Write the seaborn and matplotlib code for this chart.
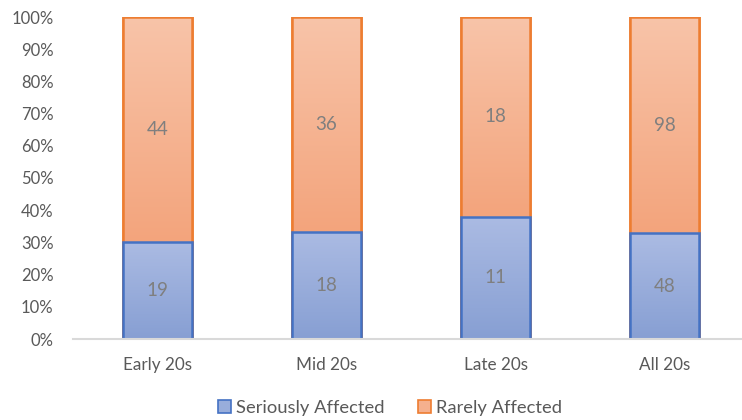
import numpy as np
import pandas as pd
import matplotlib
matplotlib.use("Agg")
import matplotlib.pyplot as plt
from matplotlib.colors import LinearSegmentedColormap
from matplotlib.patches import Patch
import seaborn as sns

# Counts per age group
categories = ["Early 20s", "Mid 20s", "Late 20s", "All 20s"]
seriously_affected = [19, 18, 11, 48]
rarely_affected = [44, 36, 18, 98]
y_ticks = [0, 10, 20, 30, 40, 50, 60, 70, 80, 90, 100]

df = pd.DataFrame({
    "group": categories,
    "serious": seriously_affected,
    "rare": rarely_affected,
})
df["total"] = df["serious"] + df["rare"]
df["serious_pct"] = df["serious"] / df["total"] * 100
df["total_pct"] = 100.0

sns.set_theme(style="white")
plt.rcParams["font.family"] = ["Lato", "DejaVu Sans"]

text_grey = "#595959"
label_grey = "#7f7f7f"
blue_edge = "#4472c4"
orange_edge = "#ed7d31"

fig = plt.figure(figsize=(7.42, 4.20), dpi=100)
ax = fig.add_axes([73 / 742, (420 - 339) / 420, (749 - 73) / 742, (339 - 17) / 420])

# Stacked 100% bars: full-height orange first, blue share on top of it
sns.barplot(data=df, x="group", y="total_pct", ax=ax, width=0.41,
            color="#f5b08e", edgecolor=orange_edge, linewidth=1.8, saturation=1)
n_orange = len(ax.patches)
sns.barplot(data=df, x="group", y="serious_pct", ax=ax, width=0.41,
            color="#98addb", edgecolor=blue_edge, linewidth=1.8, saturation=1)

orange_cmap = LinearSegmentedColormap.from_list("o", ["#f3a47c", "#f8c4a9"])
blue_cmap = LinearSegmentedColormap.from_list("b", ["#879fd3", "#abbbe3"])

# Vertical gradient fills clipped to each bar
grad = np.linspace(0, 1, 256).reshape(-1, 1)
for i, p in enumerate(ax.patches):
    cmap = orange_cmap if i < n_orange else blue_cmap
    x0, y0 = p.get_x(), p.get_y()
    w, h = p.get_width(), p.get_height()
    if i < n_orange:
        # gradient spans only the visible orange segment
        y0 = df["serious_pct"].iloc[i]
        h = 100 - y0
    im = ax.imshow(grad, cmap=cmap, origin="lower", aspect="auto",
                   extent=[x0, x0 + w, y0, y0 + h], zorder=p.get_zorder() + 0.1 + (i >= n_orange) * 0.5,
                   interpolation="bilinear")
    im.set_clip_path(p)
    # redraw outline above gradient
    edge = p.get_edgecolor()
    outline = plt.Rectangle((p.get_x(), p.get_y()), p.get_width(), p.get_height(),
                            fill=False, edgecolor=edge, linewidth=1.8,
                            zorder=p.get_zorder() + 0.2 + (i >= n_orange) * 0.5)
    ax.add_patch(outline)

# Segment labels with the raw counts
for i, row in df.iterrows():
    ax.text(i, row["serious_pct"] / 2, f"{row['serious']}", ha="center", va="center",
            fontsize=13.5, color=label_grey, zorder=10)
    ax.text(i, row["serious_pct"] + (100 - row["serious_pct"]) / 2, f"{row['rare']}",
            ha="center", va="center", fontsize=13.5, color=label_grey, zorder=10)

ax.set_ylim(0, 100)
ax.set_xlim(-0.5, len(categories) - 0.5)
ax.set_yticks(y_ticks)
ax.set_yticklabels([f"{t}%" for t in y_ticks])
ax.set_xlabel("")
ax.set_ylabel("")
ax.tick_params(axis="y", length=0, pad=14, labelsize=12, labelcolor=text_grey)
ax.tick_params(axis="x", length=0, pad=13, labelsize=12.3, labelcolor=text_grey)
for side in ["top", "right", "left"]:
    ax.spines[side].set_visible(False)
ax.spines["bottom"].set_color("#d9d9d9")
ax.spines["bottom"].set_linewidth(1.5)

handles = [
    Patch(facecolor="#98addb", edgecolor=blue_edge, linewidth=1.2, label="Seriously Affected"),
    Patch(facecolor="#f5b08e", edgecolor=orange_edge, linewidth=1.2, label="Rarely Affected"),
]
fig.legend(handles=handles, loc="center", bbox_to_anchor=(390 / 742, 1 - 408 / 420),
           ncol=2, frameon=False, fontsize=13.2, labelcolor=text_grey,
           handlelength=0.7, handleheight=0.7, handletextpad=0.3, columnspacing=1.8)

fig.savefig("out.png", dpi=100)
